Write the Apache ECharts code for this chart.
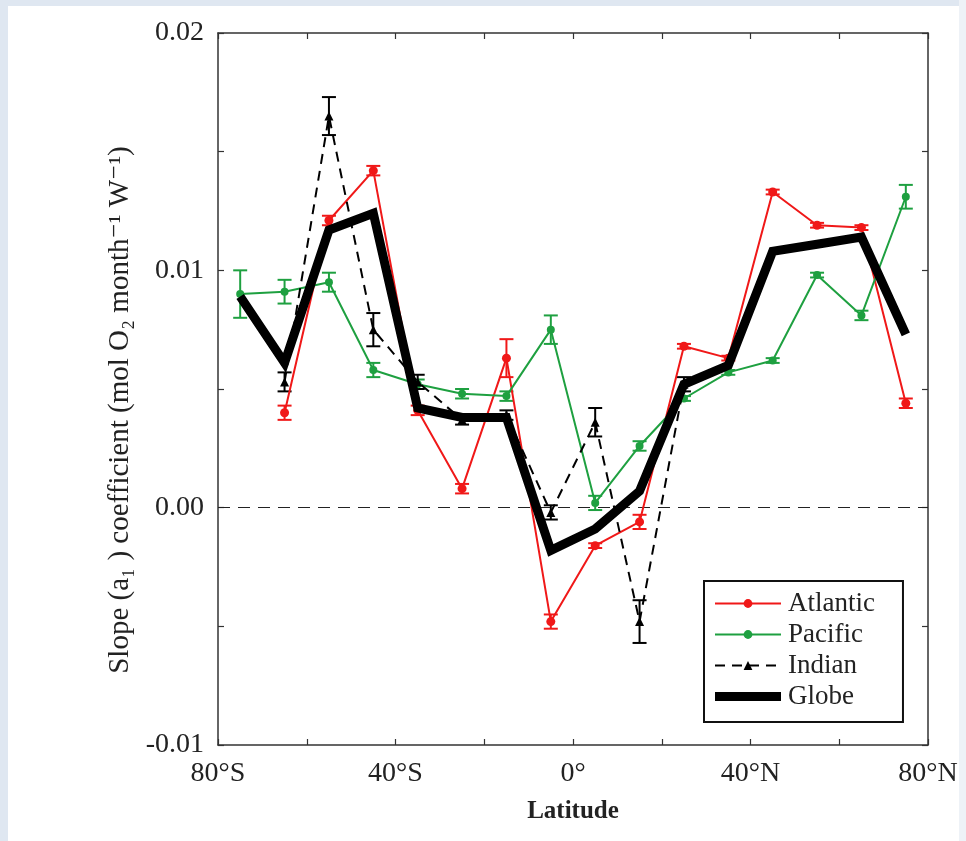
<!DOCTYPE html>
<html>
<head>
<meta charset="utf-8">
<script src="https://cdn.jsdelivr.net/npm/echarts@6/dist/echarts.min.js"></script>
<style>
html,body{margin:0;padding:0;background:#fff;}
#chart{width:966px;height:841px;}
</style>
</head>
<body>
<div id="chart"></div>
<script>
// Latitude bin centres (degrees, negative = south)
const lats = [-75,-65,-55,-45,-35,-25,-15,-5,5,15,25,35,45,55,65,75];
// Slope values per series
const atlantic = [null,0.0040,0.0121,0.0142,0.0041,0.0008,0.0063,-0.0048,-0.0016,-0.0006,0.0068,0.0063,0.0133,0.0119,0.0118,0.0044];
const pacific  = [0.0090,0.0091,0.0095,0.0058,0.0052,0.0048,0.0047,0.0075,0.0002,0.0026,0.0046,0.0057,0.0062,0.0098,0.0081,0.0131];
const indian   = [null,0.0053,0.0165,0.0075,0.0053,0.0037,0.0039,-0.0002,0.0036,-0.0048,0.0052,null,null,null,null,null];
const globe    = [0.0089,0.0061,0.0117,0.0124,0.0042,0.0038,0.0038,-0.0018,-0.0009,0.0007,0.0052,0.0060,0.0108,0.0111,0.0114,0.0073];
// Error-bar half widths
const atlanticErr = [null,0.0003,0.0002,0.0002,0.0002,0.0002,0.0008,0.0003,0.0001,0.0003,0.0001,0.0001,0.0001,0.0001,0.0001,0.0002];
const pacificErr  = [0.0010,0.0005,0.0004,0.0003,0.0002,0.0002,0.0002,0.0006,0.0003,0.0002,0.0001,0.0001,0.0001,0.0001,0.0002,0.0005];
const indianErr   = [null,0.0004,0.0008,0.0007,0.0003,0.0002,0.0002,0.0003,0.0006,0.0009,0.0003,null,null,null,null,null];
// Tick labels
const xTickLabels = {'-80':'80°S','-40':'40°S','0':'0°','40':'40°N','80':'80°N'};
const yTickLabels = {'-0.01':'-0.01','0':'0.00','0.01':'0.01','0.02':'0.02'};

const RED = '#f01818', GREEN = '#1ea040', BLACK = '#000';
const FONT = '"Liberation Serif", "DejaVu Serif", serif';

function pairs(arr){ return lats.map((x,i)=>[x, arr[i]]).filter(p=>p[1]!==null); }
function errData(arr, err){
  return lats.map((x,i)=> arr[i]===null ? null : [x, arr[i]-err[i], arr[i]+err[i]]).filter(p=>p);
}
function errSeries(arr, err, color){
  return {
    type:'custom', silent:true, z:4,
    data: errData(arr, err),
    encode:{x:0, y:[1,2]},
    renderItem:function(params, api){
      const lo = api.coord([api.value(0), api.value(1)]);
      const hi = api.coord([api.value(0), api.value(2)]);
      const w = 7;
      const st = {stroke: color, lineWidth: 2};
      return {type:'group', children:[
        {type:'line', shape:{x1:lo[0],y1:lo[1],x2:hi[0],y2:hi[1]}, style:st},
        {type:'line', shape:{x1:lo[0]-w,y1:lo[1],x2:lo[0]+w,y2:lo[1]}, style:st},
        {type:'line', shape:{x1:hi[0]-w,y1:hi[1],x2:hi[0]+w,y2:hi[1]}, style:st}
      ]};
    }
  };
}

const chart = echarts.init(document.getElementById('chart'), null, {renderer:'canvas'});
const axisLine = {show:true, onZero:false, lineStyle:{color:'#333', width:1.5}};
const tick = {show:true, inside:true, length:6, lineStyle:{color:'#333', width:1.2}};
const option = {
  backgroundColor:'#ffffff',
  animation:false,
  graphic:[
    {type:'rect', shape:{x:0,y:0,width:966,height:6}, style:{fill:'#dfe7f1'}, silent:true},
    {type:'rect', shape:{x:0,y:0,width:8,height:841}, style:{fill:'#dfe7f1'}, silent:true},
    {type:'rect', shape:{x:959,y:0,width:7,height:841}, style:{fill:'#eef2f7'}, silent:true}
  ],
  grid:{left:218, right:38, top:33, bottom:96, containLabel:false},
  legend:{
    orient:'vertical', left:704, top:581,
    backgroundColor:'#fff', borderColor:'#111', borderWidth:2,
    padding:[9,28,12,10], itemGap:4, itemWidth:66, itemHeight:11,
    lineStyle:{width:'inherit'},
    textStyle:{fontFamily:FONT, fontSize:27, color:'#222', padding:[0,0,0,2]},
    data:['Atlantic','Pacific','Indian',
      {name:'Globe', icon:'path://M0,0L66,0L66,9L0,9Z'}]
  },
  xAxis:[{
    type:'value', min:-80, max:80, interval:20,
    name:'Latitude', nameLocation:'middle', nameGap:54,
    nameTextStyle:{fontFamily:FONT, fontSize:25, fontWeight:'bold', color:'#222'},
    axisLine:axisLine, splitLine:{show:false}, axisTick:tick,
    axisLabel:{margin:15, fontFamily:FONT, fontSize:28, color:'#222',
      formatter:v=> xTickLabels[String(v)] || ''}
  },{
    type:'value', min:-80, max:80, interval:20, position:'top',
    axisLine:axisLine, splitLine:{show:false}, axisTick:tick,
    axisLabel:{show:false}
  }],
  yAxis:[{
    type:'value', min:-0.01, max:0.02, interval:0.005,
    name:'Slope (a\u2081 ) coefficient (mol O\u2082 month\u207B\u00B9 W\u207B\u00B9)',
    nameLocation:'middle', nameGap:80, nameRotate:90,
    nameTextStyle:{fontFamily:FONT, fontSize:29, color:'#222', padding:[0,42,0,0]},
    axisLine:axisLine, splitLine:{show:false}, axisTick:tick,
    axisLabel:{margin:14, fontFamily:FONT, fontSize:28, color:'#222',
      formatter:v=> yTickLabels[String(Math.round(v*1000)/1000)] || ''}
  },{
    type:'value', min:-0.01, max:0.02, interval:0.005, position:'right',
    axisLine:axisLine, splitLine:{show:false}, axisTick:tick,
    axisLabel:{show:false}
  }],
  series:[
    {name:'Atlantic', type:'line', data:pairs(atlantic), z:5,
     symbol:'circle', symbolSize:9, showSymbol:true,
     lineStyle:{color:RED, width:2}, itemStyle:{color:RED},
     markLine:{silent:true, symbol:'none', label:{show:false},
       lineStyle:{color:'#222', type:[12,8], width:1.2},
       data:[{yAxis:0}]}},
    {name:'Pacific', type:'line', data:pairs(pacific), z:5,
     symbol:'circle', symbolSize:8,
     lineStyle:{color:GREEN, width:2}, itemStyle:{color:GREEN}},
    {name:'Indian', type:'line', data:pairs(indian), z:6,
     symbol:'triangle', symbolSize:9,
     lineStyle:{color:BLACK, width:2, type:[10,7]}, itemStyle:{color:BLACK}},
    {name:'Globe', type:'line', data:pairs(globe), z:7,
     symbol:'none', lineStyle:{color:BLACK, width:9, join:'miter'}, itemStyle:{color:BLACK}},
    errSeries(atlantic, atlanticErr, RED),
    errSeries(pacific, pacificErr, GREEN),
    errSeries(indian, indianErr, BLACK)
  ]
};
chart.setOption(option);
</script>
</body>
</html>
